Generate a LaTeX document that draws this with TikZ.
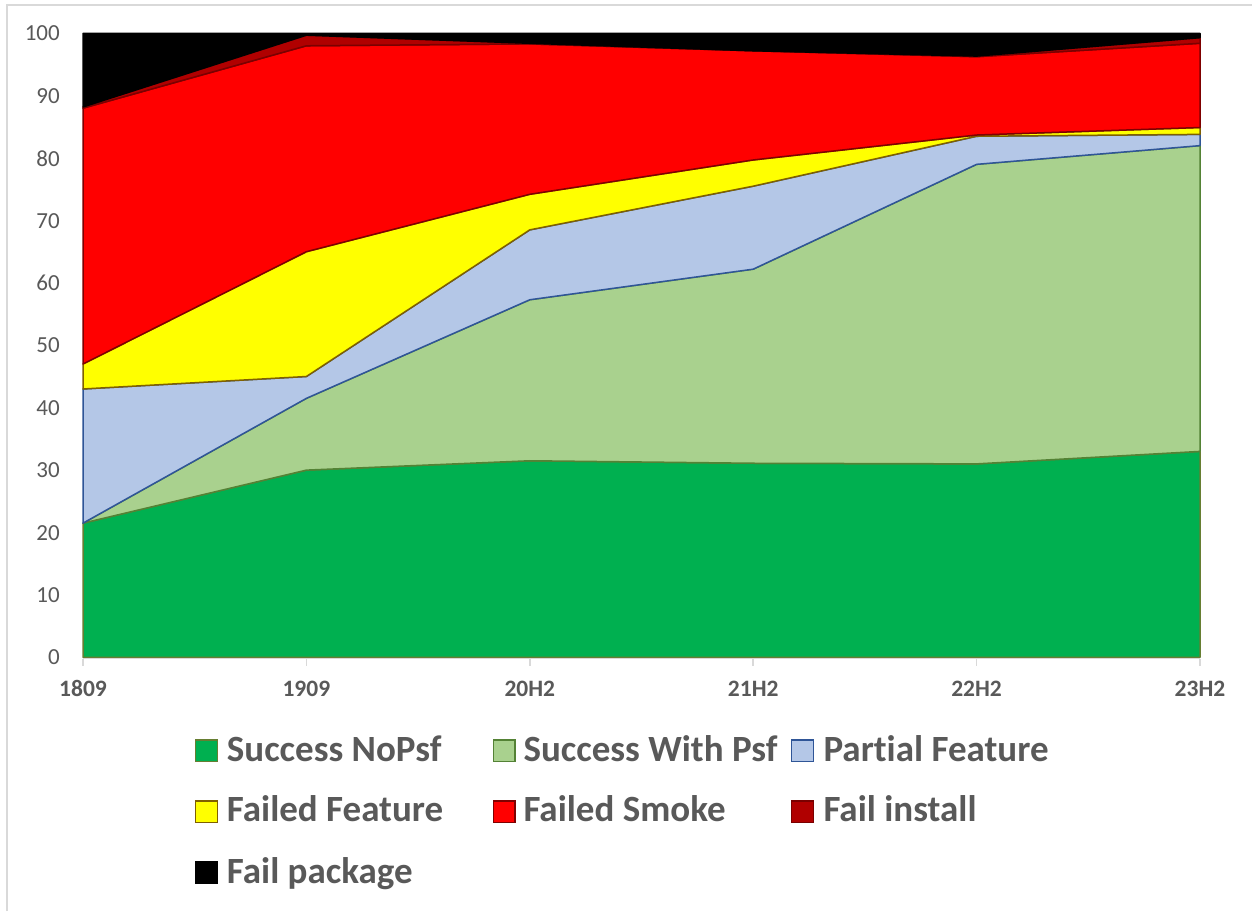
\documentclass[tikz,border=0pt]{standalone}
\usepackage{fontspec}
\setmainfont{Carlito}[Ligatures={NoCommon}]
\definecolor{txtgray}{HTML}{595959}
\definecolor{axgray}{HTML}{D9D9D9}
\definecolor{nopsfFill}{HTML}{00B050}
\definecolor{nopsfLine}{HTML}{667E32}
\definecolor{psfFill}{HTML}{A9D18E}
\definecolor{psfLine}{HTML}{548235}
\definecolor{partFill}{HTML}{B4C7E7}
\definecolor{partLine}{HTML}{2F5597}
\definecolor{ffFill}{HTML}{FFFF00}
\definecolor{ffLine}{HTML}{7F6000}
\definecolor{fsFill}{HTML}{FF0000}
\definecolor{fsLine}{HTML}{7F0000}
\definecolor{fiFill}{HTML}{B00000}
\definecolor{fiLine}{HTML}{7A0000}
\tikzset{
  band/.style={line width=1.5pt, line join=round},
  sA/.style={band, fill=nopsfFill, draw=nopsfLine},
  sB/.style={band, fill=psfFill, draw=psfLine},
  sC/.style={band, fill=partFill, draw=partLine},
  sD/.style={band, fill=ffFill, draw=ffLine},
  sE/.style={band, fill=fsFill, draw=fsLine},
  sF/.style={band, fill=fiFill, draw=fiLine},
  sG/.style={band, fill=black, draw=black},
  ylab/.style={inner sep=0pt, anchor=east, text=txtgray, font=\fontsize{23}{28}\selectfont},
  xlab/.style={inner sep=0pt, anchor=base, text=txtgray, font=\fontsize{23.5}{28}\selectfont\bfseries},
  ltext/.style={inner sep=0pt, anchor=base west, text=txtgray, font=\fontsize{37}{42}\selectfont\bfseries},
  lsw/.style={line width=1.5pt},
  axisline/.style={draw=axgray, line width=1.5pt},
  framestyle/.style={draw=axgray, line width=2pt}
}
\begin{document}
\begin{tikzpicture}[x=1pt,y=-1pt]
\useasboundingbox (0,0) rectangle (1252,911);
\fill[white] (0,0) rectangle (1252,911);
\draw[framestyle] (7,911) -- (7,5) -- (1252,5);

% stacked areas, one unit = one category step horizontally, one percent vertically
\begin{scope}[shift={(83,657.3)}, x={(223.4pt,0pt)}, y={(0pt,6.24pt)}]
  \filldraw[sA] (0,0) -- (0,21.5) -- (1,30) -- (2,31.5) -- (3,31.1) -- (4,31) -- (5,33) -- (5,0) -- cycle;
  \filldraw[sB] (0,21.5) -- (1,41.5) -- (2,57.3) -- (3,62.2) -- (4,79) -- (5,82)
     -- (5,33) -- (4,31) -- (3,31.1) -- (2,31.5) -- (1,30) -- cycle;
  \filldraw[sC] (0,21.5) -- (0,43) -- (1,45) -- (2,68.5) -- (3,75.5) -- (4,83.5) -- (5,83.8)
     -- (5,82) -- (4,79) -- (3,62.2) -- (2,57.3) -- (1,41.5) -- cycle;
  \filldraw[sD] (0,43) -- (0,47) -- (1,65) -- (2,74.2) -- (3,79.7) -- (4,83.7) -- (5,84.9)
     -- (5,83.8) -- (4,83.5) -- (3,75.5) -- (2,68.5) -- (1,45) -- cycle;
  \filldraw[sE] (0,47) -- (0,88) -- (1,98) -- (2,98.3) -- (3,97.2) -- (4,96.25) -- (5,98.4)
     -- (5,84.9) -- (4,83.7) -- (3,79.7) -- (2,74.2) -- (1,65) -- cycle;
  \filldraw[sF] (0,88) -- (0,88.2) -- (1,99.7) -- (2,98.4) -- (3,97.2) -- (4,96.35) -- (5,99.3)
     -- (5,98.4) -- (4,96.25) -- (3,97.2) -- (2,98.3) -- (1,98) -- cycle;
  \filldraw[sG] (0,88.2) -- (0,100) -- (5,100) -- (5,99.3) -- (4,96.35) -- (3,97.2) -- (2,98.4) -- (1,99.7) -- cycle;
\end{scope}

% horizontal axis with tick marks
\draw[axisline] (83,658.5) -- (1200,658.5);
\foreach \i in {0,...,5} \draw[axisline] ({83+223.4*\i},658.5) -- ++(0,7);

% value labels
\foreach \v in {0,10,...,100}
  \node[ylab] (y\v) at (60,{657.6-6.24*\v}) {\v};

% category labels
\foreach \lab [count=\i from 0] in {1809,1909,20H2,21H2,22H2,23H2}
  \node[xlab] (x\i) at ({83+223.4*\i},696.7) {\lab};

% legend
\filldraw[lsw, fill=nopsfFill, draw=nopsfLine] (195.7,740.1) rectangle (217.3,761.7);
\node[ltext] (l1) at (226.7,761.5) {Success NoPsf};
\filldraw[lsw, fill=psfFill, draw=psfLine] (493.3,740.1) rectangle (514.9,761.7);
\node[ltext] (l2) at (523.3,761.5) {Success With Psf};
\filldraw[lsw, fill=partFill, draw=partLine] (791.7,740.1) rectangle (813.3,761.7);
\node[ltext] (l3) at (823.3,761.5) {Partial Feature};

\filldraw[lsw, fill=ffFill, draw=ffLine] (195.7,801.1) rectangle (217.3,822.7);
\node[ltext] (l4) at (226.7,821.7) {Failed Feature};
\filldraw[lsw, fill=fsFill, draw=fsLine] (493.3,801.1) rectangle (514.9,822.7);
\node[ltext] (l5) at (523.3,821.7) {Failed Smoke};
\filldraw[lsw, fill=fiFill, draw=fiLine] (791.7,801.1) rectangle (813.3,822.7);
\node[ltext] (l6) at (823.3,821.7) {Fail install};

\filldraw[lsw, fill=black, draw=black] (195.7,861.7) rectangle (217.3,883.3);
\node[ltext] (l7) at (226.7,883) {Fail package};
\end{tikzpicture}
\end{document}
